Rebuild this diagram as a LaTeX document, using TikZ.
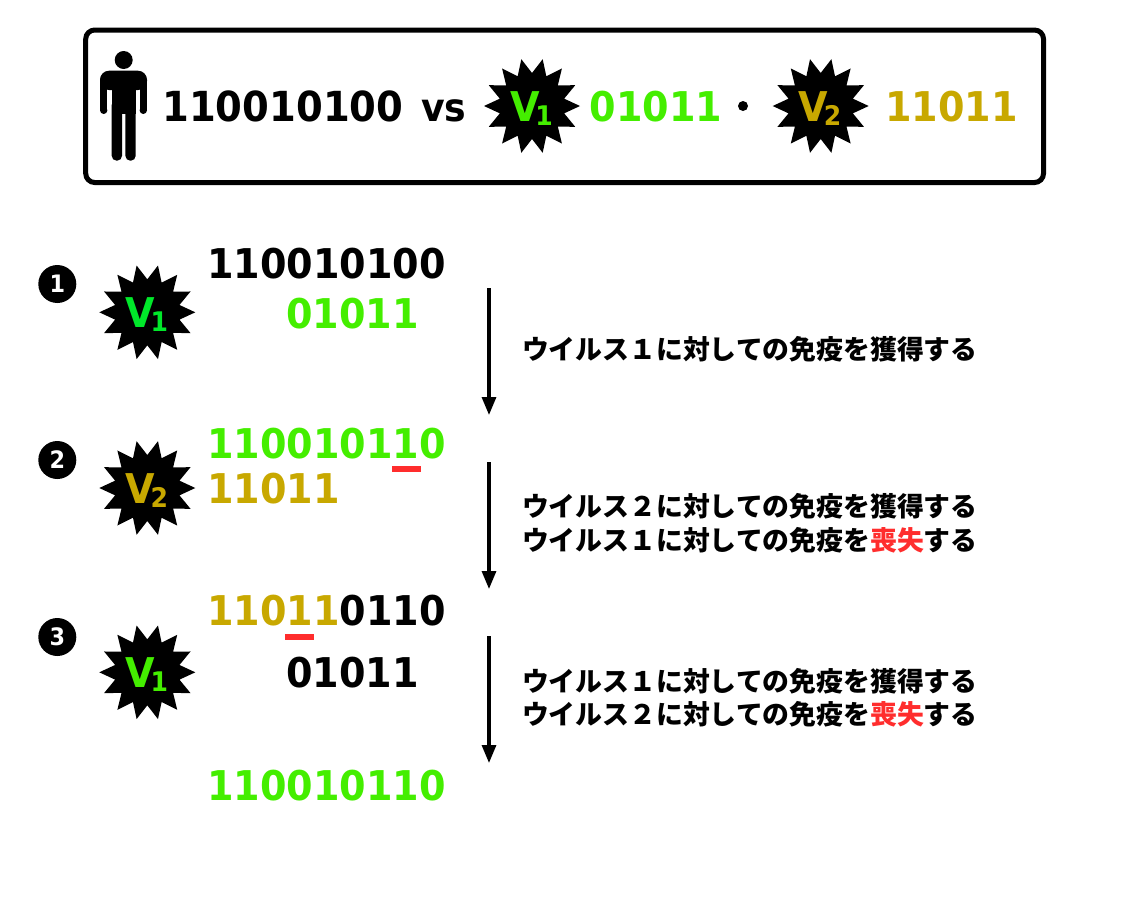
\documentclass[tikz,border=0pt]{standalone}
\usepackage{fontspec}
\setmainfont{DejaVu Sans}
\newfontfamily\digfont[FakeStretch=0.93]{DejaVu Sans Bold}
\newfontfamily\cjkjp{Noto Sans CJK JP}
\usetikzlibrary{calc,arrows.meta}
\definecolor{vgreen}{HTML}{44EE00}
\definecolor{vlime}{HTML}{00E82A}
\definecolor{vgold}{HTML}{C8A800}
\definecolor{vred}{HTML}{FF2D2D}
\newcommand{\burstat}[2]{%
  \coordinate (#1) at (#2);
  \fill[black] ($(#1)+(0:48pt)$) \foreach \k in {0,...,13}{ -- ($(#1)+({\k*25.7143+12.857}:33pt)$) -- ($(#1)+({(\k+1)*25.7143}:48pt)$) } -- cycle;}
\newcommand{\vlabel}[4]{%
  \node[vmain,text=#3] (#4v) at ([xshift=-7pt,yshift=-15pt]#4) {V};
  \node[vsub,text=#3] (#4s) at ([xshift=12pt,yshift=-19pt]#4) {#2};}
\tikzset{
  digits/.style={anchor=base west,inner sep=0pt,outer sep=0pt,font=\digfont\fontsize{41}{41}\selectfont},
  vmain/.style={anchor=base,inner sep=0pt,font=\digfont\fontsize{41}{41}\selectfont},
  vsub/.style={anchor=base,inner sep=0pt,font=\digfont\fontsize{27}{27}\selectfont},
  jp/.style={anchor=base west,inner sep=0pt,outer sep=0pt,font=\fontsize{26.85}{26.85}\cjkjp\bfseries\selectfont},
  numdot/.style={circle,fill=black,text=white,inner sep=0pt,minimum size=38pt,font=\digfont\fontsize{24}{24}\selectfont},
  flow/.style={-{Triangle[length=18pt,width=14pt]},line width=3.2pt,black},
  redbar/.style={fill=vred,draw=none},
  person/.style={fill=black,draw=none}
}
\begin{document}
\begin{tikzpicture}[x=1pt,y=-1pt]
\useasboundingbox (0,0) rectangle (1128,903);
\node[draw=black,line width=5pt,rounded corners=9pt,minimum width=957.8pt,minimum height=152.5pt,inner sep=0pt,outer sep=0pt,anchor=north west] (frame) at (85.7,30) {};
% person
\fill[person] (123.7,60) circle (9);
\fill[person,rounded corners=9pt] (100,90) -- (100,70.7) -- (147,70.7) -- (147,90) -- cycle;
\fill[person] (100,82) rectangle (107.4,110);
\fill[person] (139.6,82) rectangle (147,110);
\fill[person] (103.7,110.3) circle (3.7);
\fill[person] (143.3,110.3) circle (3.7);
\fill[person] (111.7,75) rectangle (135.7,113.5);
\fill[person,rounded corners=4.9pt] (111.7,100) rectangle (122,160.7);
\fill[person,rounded corners=4.9pt] (125.4,100) rectangle (135.7,160.7);
% header
\node[digits,font=\digfont\fontsize{41.4}{41.4}\selectfont] (hseq) at (162.3,121.7) {110010100};
\node[digits,font=\digfont\fontsize{39}{39}\selectfont] (hvs) at (421,121.7) {vs};
\burstat{hv1}{532,106}
\vlabel{V}{1}{vgreen}{hv1}
\node[digits,text=vgreen] (hg) at (589.5,121.7) {01011};
\fill (743,106) circle (5);
\burstat{hv2}{820.7,106}
\vlabel{V}{2}{vgold}{hv2}
\node[digits,text=vgold] (hy) at (885,121.7) {11011};
% steps
\node[numdot] (n1) at (57.3,284) {1};
\node[numdot] (n2) at (57.3,460) {2};
\node[numdot] (n3) at (57.3,637) {3};
\burstat{s1}{147.3,312.3}
\vlabel{V}{1}{vlime}{s1}
\burstat{s2}{147.3,488}
\vlabel{V}{2}{vgold}{s2}
\burstat{s3}{147.3,672.3}
\vlabel{V}{1}{vgreen}{s3}
\node[digits] (a1) at (207.2,278) {110010100};
\node[digits,text=vgreen] (a2) at (286.2,328) {01011};
\node[digits,text=vgreen] (b1) at (207.2,458) {110010110};
\node[digits,text=vgold] (b2) at (207.2,503) {11011};
\fill[redbar] (391.7,466) rectangle (421,472);
\node[digits] (c1) at (207.2,625.7) {\textcolor{vgold}{11011}0110};
\fill[redbar] (285,634) rectangle (314,640);
\node[digits] (c2) at (286.2,687.7) {01011};
\node[digits,text=vgreen] (d1) at (207.2,800.7) {110010110};
% arrows
\coordinate (f1s) at (489,288); \coordinate (f1e) at (489,415);
\coordinate (f2s) at (489,462); \coordinate (f2e) at (489,589);
\coordinate (f3s) at (489,636); \coordinate (f3e) at (489,763);
\draw[flow] (f1s) -- (f1e);
\draw[flow] (f2s) -- (f2e);
\draw[flow] (f3s) -- (f3e);
% captions
\node[jp] (t1) at (522,359.5) {ウイルス１に対しての免疫を獲得する};
\node[jp] (t2) at (522,516.5) {ウイルス２に対しての免疫を獲得する};
\node[jp] (t3) at (522,550) {ウイルス１に対しての免疫を\textcolor{vred}{喪失}する};
\node[jp] (t4) at (522,691.5) {ウイルス１に対しての免疫を獲得する};
\node[jp] (t5) at (522,724.5) {ウイルス２に対しての免疫を\textcolor{vred}{喪失}する};
\end{tikzpicture}
\end{document}
